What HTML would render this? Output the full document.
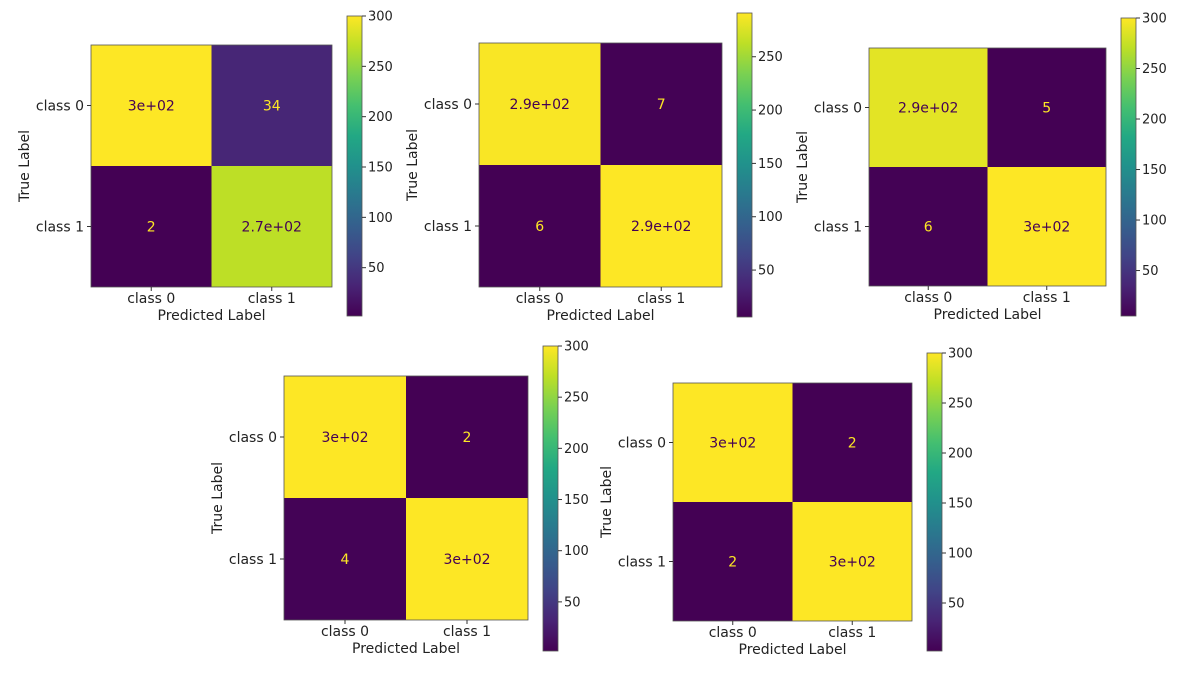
<!DOCTYPE html>
<html><head><meta charset="utf-8"><style>
html,body{margin:0;padding:0;background:#fff;width:1187px;height:681px;overflow:hidden}
svg text{font-family:"DejaVu Sans","Liberation Sans",sans-serif}
</style></head><body>
<svg id="fig" width="1187" height="681" viewBox="0 0 1187 681" xmlns="http://www.w3.org/2000/svg">
<defs>
<linearGradient id="vir" x1="0" y1="1" x2="0" y2="0">
<stop offset="0" stop-color="#440154"/><stop offset="0.1" stop-color="#482475"/>
<stop offset="0.2" stop-color="#414487"/><stop offset="0.3" stop-color="#355f8d"/>
<stop offset="0.4" stop-color="#2a788e"/><stop offset="0.5" stop-color="#21918c"/>
<stop offset="0.6" stop-color="#22a884"/><stop offset="0.7" stop-color="#44bf70"/>
<stop offset="0.8" stop-color="#7ad151"/><stop offset="0.9" stop-color="#bddf26"/>
<stop offset="1" stop-color="#fde725"/>
</linearGradient>
</defs>
</svg>
<script>
// data per panel
const classLabels = ["class 0", "class 1"];
const panel1Values = [[300, 34], [2, 270]];
const panel1Text = [["3e+02", "34"], ["2", "2.7e+02"]];
const panel2Values = [[289, 7], [6, 291]];
const panel2Text = [["2.9e+02", "7"], ["6", "2.9e+02"]];
const panel3Values = [[288, 5], [6, 300]];
const panel3Text = [["2.9e+02", "5"], ["6", "3e+02"]];
const panel4Values = [[300, 2], [4, 300]];
const panel4Text = [["3e+02", "2"], ["4", "3e+02"]];
const panel5Values = [[300, 2], [2, 300]];
const panel5Text = [["3e+02", "2"], ["2", "3e+02"]];
const tickTop = [50, 100, 150, 200, 250, 300];
const tickPanel2 = [50, 100, 150, 200, 250];

const layouts = [
 {v:panel1Values,t:panel1Text,ticks:tickTop,mx:91,my:45,mw:241,mh:242,cx:347,cy:16,ch:300},
 {v:panel2Values,t:panel2Text,ticks:tickPanel2,mx:479,my:43,mw:243,mh:244,cx:737,cy:13,ch:304},
 {v:panel3Values,t:panel3Text,ticks:tickTop,mx:869,my:48,mw:237,mh:238,cx:1121,cy:18,ch:298},
 {v:panel4Values,t:panel4Text,ticks:tickTop,mx:284,my:376,mw:244,mh:244,cx:543,cy:346,ch:305},
 {v:panel5Values,t:panel5Text,ticks:tickTop,mx:673,my:383,mw:239,mh:238,cx:927,cy:353,ch:298}
];
const stops=[[0,"#440154"],[0.1,"#482475"],[0.2,"#414487"],[0.3,"#355f8d"],[0.4,"#2a788e"],[0.5,"#21918c"],[0.6,"#22a884"],[0.7,"#44bf70"],[0.8,"#7ad151"],[0.9,"#bddf26"],[1,"#fde725"]];
function hex(h){return [1,3,5].map(i=>parseInt(h.substr(i,2),16));}
function viridis(f){f=Math.max(0,Math.min(1,f));
 for(let i=1;i<stops.length;i++){if(f<=stops[i][0]){const a=stops[i-1],b=stops[i];const u=(f-a[0])/(b[0]-a[0]);const A=hex(a[1]),B=hex(b[1]);
 return "rgb("+A.map((x,k)=>Math.round(x+(B[k]-x)*u)).join(",")+")";}}return stops[stops.length-1][1];}
const svg=document.getElementById('fig');const NS="http://www.w3.org/2000/svg";
function mk(tag,attrs,parent,txt){const e=document.createElementNS(NS,tag);for(const k in attrs)e.setAttribute(k,attrs[k]);if(txt!==undefined)e.textContent=txt;(parent||svg).appendChild(e);return e;}
layouts.forEach((L,pi)=>{
 const g=mk('g',{});
 
 
 const flat=L.v.flat();const vmin=Math.min(...flat),vmax=Math.max(...flat);
 const cw=L.mw/2,chh=L.mh/2;
 for(let r=0;r<2;r++)for(let c=0;c<2;c++){
  const val=L.v[r][c];const f=(val-vmin)/(vmax-vmin);
  const rect=mk('rect',{x:L.mx+c*cw,y:L.my+r*chh,width:cw,height:chh,fill:viridis(f)},g);
  
  
  const t=mk('text',{x:L.mx+c*cw+cw/2,y:L.my+r*chh+chh/2+5,'text-anchor':'middle','font-size':14,fill:f<0.5?'#fde725':'#440154'},g,L.t[r][c]);
  
  
 }
 mk('rect',{x:L.mx,y:L.my,width:L.mw,height:L.mh,fill:'none',stroke:'#555','stroke-width':0.8},g);
 for(let i=0;i<2;i++){
  const yy=L.my+i*chh+chh/2;
  mk('line',{x1:L.mx-4,y1:yy,x2:L.mx,y2:yy,stroke:'#333'},g);
  const yl=mk('text',{x:L.mx-7,y:yy+5,'text-anchor':'end','font-size':14,fill:'#222'},g,classLabels[i]);
  
  
  const xx=L.mx+i*cw+cw/2;
  mk('line',{x1:xx,y1:L.my+L.mh,x2:xx,y2:L.my+L.mh+4,stroke:'#333'},g);
  const xl=mk('text',{x:xx,y:L.my+L.mh+16,'text-anchor':'middle','font-size':14,fill:'#222'},g,classLabels[i]);
  
  
 }
 const xt=mk('text',{x:L.mx+L.mw/2,y:L.my+L.mh+33,'text-anchor':'middle','font-size':14,fill:'#222'},g,'Predicted Label');
 
 
 const tx=L.mx-62,ty=L.my+L.mh/2;
 const yt=mk('text',{x:tx,y:ty,'text-anchor':'middle','font-size':14,fill:'#222',transform:'rotate(-90 '+tx+' '+ty+')'},g,'True Label');
 
 
 const cb=mk('rect',{x:L.cx,y:L.cy,width:15,height:L.ch,fill:'url(#vir)',stroke:'#555','stroke-width':0.8},g);
 
 
 L.ticks.forEach(tv=>{
  const yy=L.cy+L.ch*(1-(tv-vmin)/(vmax-vmin));
  mk('line',{x1:L.cx+15,y1:yy,x2:L.cx+19,y2:yy,stroke:'#333'},g);
  const tl=mk('text',{x:L.cx+21,y:yy+4.5,'font-size':13,fill:'#222'},g,String(tv));
  
  
 });
});
</script>
</body></html>
